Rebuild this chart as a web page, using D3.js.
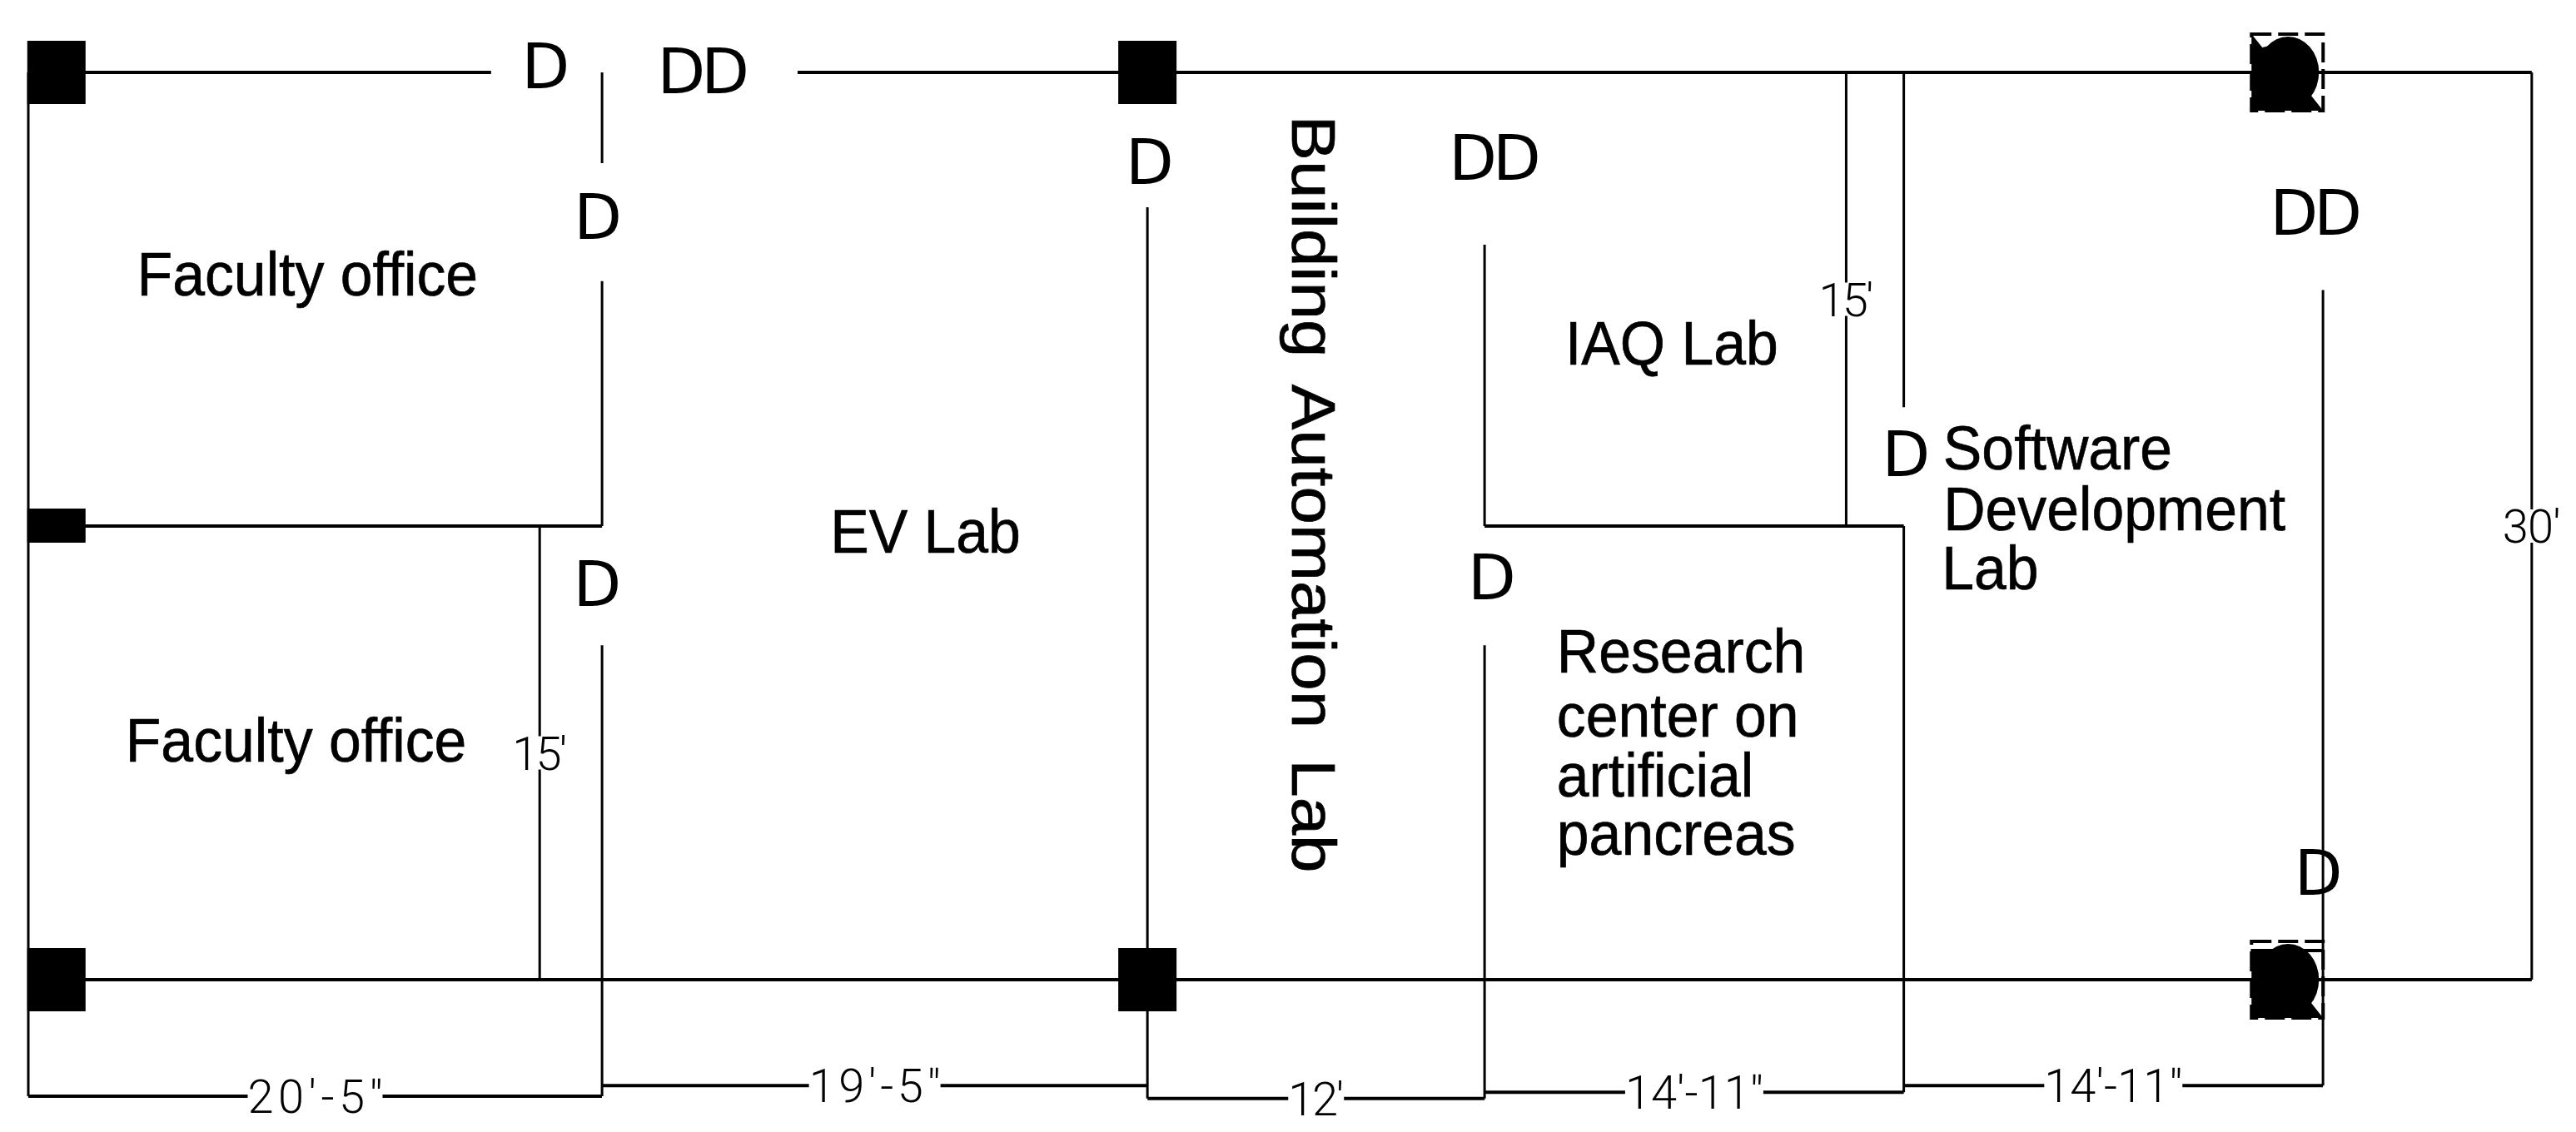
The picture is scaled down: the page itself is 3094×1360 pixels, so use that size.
<!DOCTYPE html>
<html>
<head>
<meta charset="utf-8">
<script src="https://cdn.jsdelivr.net/npm/d3@7"></script>
<style>
	body { margin: 0; background: #fff; }
	svg { display: block; }
</style>
</head>
<body>
<div id="plan"></div>
<script>
// all plan values are in feet, measured from the top left corner of the building
const spanLabels = ["20′-5″", "19′-5″", "12′", "14′-11″", "14′-11″"];
const spanFeet = [20 + 5 / 12, 19 + 5 / 12, 12, 14 + 11 / 12, 14 + 11 / 12];
const spanDrop = [33.85, 33.5, 33.93, 33.72, 33.5];

const heightLabels = ["15′", "15′", "30′"];
const heightX = [18.2, 64.7, 89.1];
const heightY = [22.5, 7.5, 15];

// [x, y from, y to]
const wallsV = [
	[0, 0, 33.85],
	[18.2, 15, 30],
	[20.42, 0, 3],
	[20.42, 6.9, 15],
	[20.42, 18.94, 33.85],
	[39.83, 4.46, 33.93],
	[51.83, 5.7, 15],
	[51.83, 18.94, 33.93],
	[64.7, 0, 15],
	[66.75, 0, 11.07],
	[66.75, 15, 33.72],
	[81.67, 7.2, 33.5],
	[89.1, 0, 30]
];
// [y, x from, x to]
const wallsH = [
	[0, 0, 16.47],
	[0, 27.38, 89.1],
	[15, 0, 20.42],
	[15, 51.83, 66.75],
	[29.04, 79.1, 81.67],
	[30, 0, 89.1]
];

const columnX = [1, 1, 1, 39.83, 39.83];
const columnY = [0, 15, 30, 0, 30];
const roundColumnX = [80.4, 80.4];
const roundColumnY = [0, 30];

const doorLabels = ["D", "DD", "D", "D", "D", "DD", "DD", "D", "D", "D"];
const doorX = [18.41, 23.95, 20.27, 20.25, 39.91, 52.12, 81.35, 66.83, 52.09, 81.51];
const doorY = [0.52, 0.69, 5.5, 17.64, 3.69, 3.55, 5.37, 13.35, 17.42, 27.2];

const roomLabels = ["Faculty office", "Faculty office", "EV Lab", "IAQ Lab", "Research", "center on", "artificial", "pancreas", "Software", "Development", "Lab"];
const roomX = [3.87, 3.46, 28.54, 54.7, 54.4, 54.4, 54.4, 54.4, 68.15, 68.16, 68.1];
const roomY = [7.38, 22.79, 15.88, 9.66, 19.85, 21.97, 23.95, 25.87, 13.13, 15.14, 17.09];

const sideLabel = "Building Automation Lab";
const sideX = 44.98;
const sideY = 1.42;

const w = 3094, h = 1360;

// widths the dimension texts are spaced out to, the CAD font runs wider than Roboto
const dimWidth = { "20′-5″": 162, "19′-5″": 158, "12′": 67, "14′-11″": 166, "15′": 66, "30′": 70 };

const x = d3.scaleLinear().domain([0, d3.sum(spanFeet)]).range([34, 2790]);
const y = d3.scaleLinear().domain([0, 30]).range([87, 1177]);

const svg = d3.select("#plan").append("svg")
	.attr("width", w)
	.attr("height", h);

const gridX = [0].concat(Array.from(d3.cumsum(spanFeet)));

function draw_walls() {
	svg.append("g").selectAll("line")
		.data(wallsV)
		.enter().append("line")
		.attr("x1", d => x(d[0]))
		.attr("x2", d => x(d[0]))
		.attr("y1", d => y(d[1]))
		.attr("y2", d => y(d[2]))
		.attr("stroke", "#000")
		.attr("stroke-width", 3);

	svg.append("g").selectAll("line")
		.data(wallsH)
		.enter().append("line")
		.attr("x1", d => x(d[1]))
		.attr("x2", d => x(d[2]))
		.attr("y1", d => y(d[0]))
		.attr("y2", d => y(d[0]))
		.attr("stroke", "#000")
		.attr("stroke-width", 4);
}

function draw_columns() {
	svg.append("g").selectAll("rect")
		.data(columnX)
		.enter().append("rect")
		.attr("x", d => x(d) - 35)
		.attr("y", (d, i) => y(columnY[i]) - (columnY[i] == 15 ? 21 : 38))
		.attr("width", 70)
		.attr("height", (d, i) => columnY[i] == 15 ? 41 : 76)
		.attr("fill", "#000");

	const round = svg.append("g").selectAll("g")
		.data(roundColumnX)
		.enter().append("g")
		.attr("transform", (d, i) => "translate(" + x(d) + "," + y(roundColumnY[i]) + ")");

	round.append("rect")
		.attr("x", -43)
		.attr("y", -46)
		.attr("width", 86)
		.attr("height", 92)
		.attr("fill", "none")
		.attr("stroke", "#000")
		.attr("stroke-width", 4)
		.attr("stroke-dasharray", "24,8");

	round.append("path")
		.attr("d", (d, i) => i == 0
			? "M-43,-46L-30,-30L-5,-36L28,27L43,46L-43,46Z"
			: "M-43,-35L-5,-35L28,27L43,46L-43,46Z")
		.attr("fill", "#000");

	round.append("ellipse")
		.attr("cx", 1)
		.attr("cy", 0)
		.attr("rx", 37)
		.attr("ry", 43)
		.attr("fill", "#000");
}

// dimension text sits in a white box that breaks the line under it
function put_dim(label, px, py) {
	const g = svg.append("g");
	g.append("text")
		.attr("x", px)
		.attr("y", py + 20)
		.attr("text-anchor", "middle")
		.attr("textLength", dimWidth[label])
		.style("font-family", "Roboto")
		.style("font-weight", 300)
		.style("font-size", "56px")
		.attr("fill", "#000")
		.text(label);
	const half = dimWidth[label] / 2;
	g.insert("rect", "text")
		.attr("x", px - half)
		.attr("y", py - 20)
		.attr("width", half * 2)
		.attr("height", 40)
		.attr("fill", "#fff");
}

function draw_dimensions() {
	svg.append("g").selectAll("line")
		.data(spanFeet)
		.enter().append("line")
		.attr("x1", (d, i) => x(gridX[i]))
		.attr("x2", (d, i) => x(gridX[i + 1]))
		.attr("y1", (d, i) => y(spanDrop[i]))
		.attr("y2", (d, i) => y(spanDrop[i]))
		.attr("stroke", "#000")
		.attr("stroke-width", 4);

	spanLabels.forEach((s, i) => put_dim(s, x((gridX[i] + gridX[i + 1]) / 2), y(spanDrop[i])));
	heightLabels.forEach((s, i) => put_dim(s, x(heightX[i]), y(heightY[i])));
}

function draw_labels() {
	svg.append("g").selectAll("text")
		.data(doorLabels)
		.enter().append("text")
		.attr("x", (d, i) => x(doorX[i]))
		.attr("y", (d, i) => y(doorY[i]))
		.attr("text-anchor", "middle")
		.style("font-family", "DejaVu Sans")
		.style("font-size", "75px")
		.style("letter-spacing", d => d.length > 1 ? "-5px" : "0")
		.attr("fill", "#000")
		.text(d => d);

	svg.append("g").selectAll("text")
		.data(roomLabels)
		.enter().append("text")
		.attr("transform", (d, i) => "translate(" + x(roomX[i]) + "," + y(roomY[i]) + ") scale(0.93,1)")
		.style("font-family", "Liberation Sans")
		.style("font-size", "75px")
		.attr("fill", "#000")
		.attr("stroke", "#000")
		.attr("stroke-width", 0.7)
		.text(d => d);

	svg.append("text")
		.attr("transform", "translate(" + x(sideX) + "," + y(sideY) + ") rotate(90) scale(1.09,1)")
		.style("font-family", "Liberation Sans")
		.style("font-size", "75px")
		.style("word-spacing", "13px")
		.attr("fill", "#000")
		.attr("stroke", "#000")
		.attr("stroke-width", 0.7)
		.text(sideLabel);
}

draw_walls();
draw_dimensions();
draw_columns();
draw_labels();
</script>
</body>
</html>
